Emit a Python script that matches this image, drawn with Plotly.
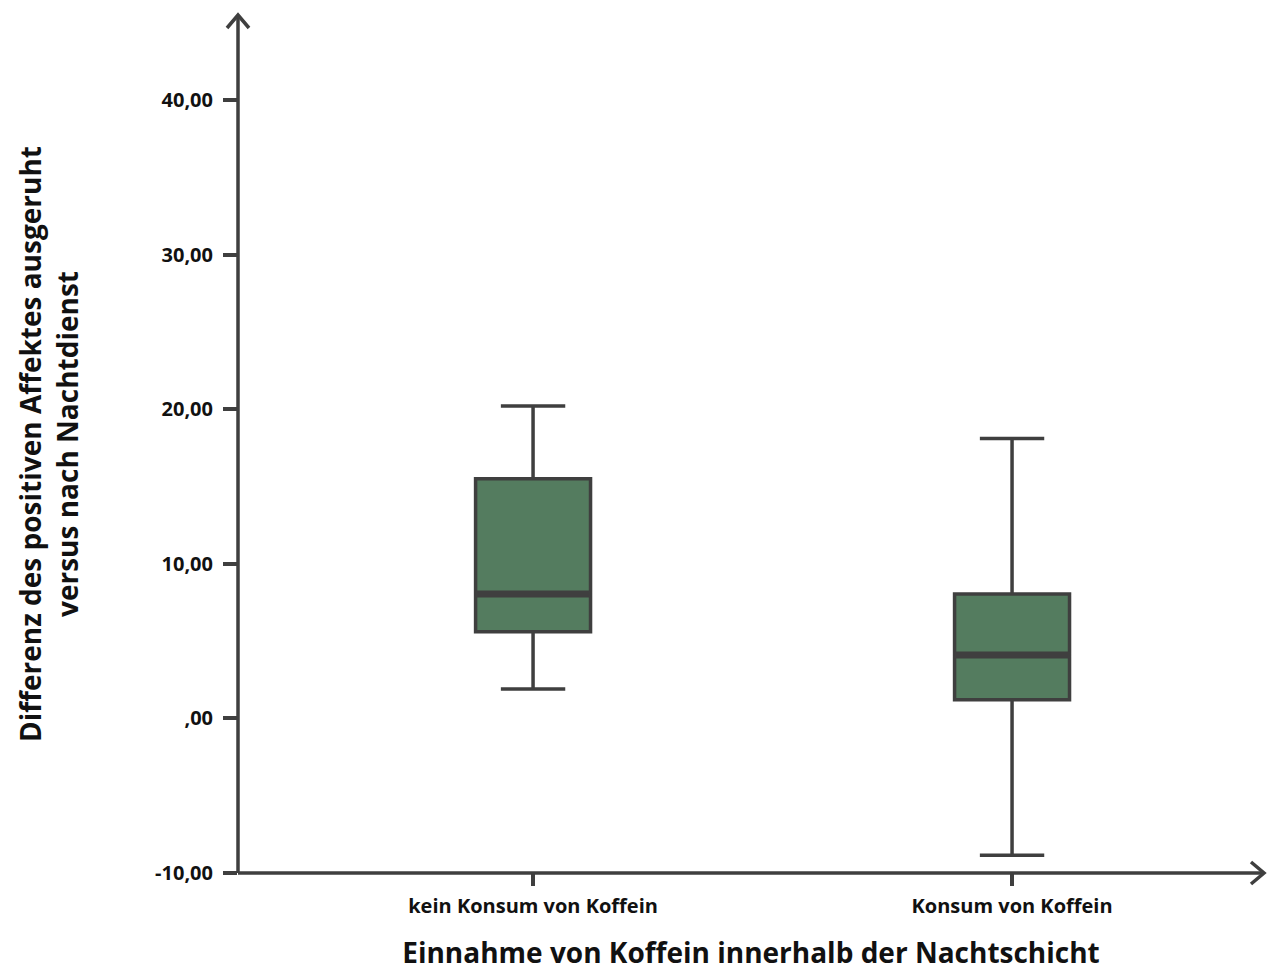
import plotly.graph_objects as go

categories = ["kein Konsum von Koffein", "Konsum von Koffein"]
positions = [0, 1]
lower_whisker = [1.9, -8.85]
q1 = [5.6, 1.2]
median = [8.05, 4.1]
q3 = [15.5, 8.05]
upper_whisker = [20.2, 18.1]

y_tickvals = [-10, 0, 10, 20, 30, 40]
y_ticktext = ["-10,00", ",00", "10,00", "20,00", "30,00", "40,00"]

x_title = "Einnahme von Koffein innerhalb der Nachtschicht"
y_title = "Differenz des positiven Affektes ausgeruht<br>versus nach Nachtdienst"

FILL = "#547c5f"
LINE = "#3f3f3f"
FONT = "Open Sans"
BOX_W = 0.24

fig = go.Figure()
fig.add_trace(go.Box(
    x=positions, q1=q1, median=median, q3=q3,
    lowerfence=lower_whisker, upperfence=upper_whisker,
    fillcolor=FILL, line=dict(color=LINE, width=3.5),
    width=BOX_W, whiskerwidth=0.56, boxpoints=False,
    hoverinfo="skip", showlegend=False,
))
for p, m in zip(positions, median):
    fig.add_trace(go.Scatter(
        x=[p - BOX_W / 2, p + BOX_W / 2], y=[m, m], mode="lines",
        line=dict(color=LINE, width=7), showlegend=False, hoverinfo="skip",
    ))

# axis lines and arrows
shapes = [
    dict(type="line", xref="paper", yref="paper", x0=0, x1=0, y0=0, y1=1,
         line=dict(color=LINE, width=3.5)),
    dict(type="line", xref="paper", yref="paper", x0=0, x1=1, y0=0, y1=0,
         line=dict(color=LINE, width=3.5)),
    dict(type="path", xref="paper", yref="paper", xsizemode="pixel", ysizemode="pixel",
         xanchor=0, yanchor=1, path="M -11,-13 L 0,0 L 11,-13",
         line=dict(color=LINE, width=3.5)),
    dict(type="path", xref="paper", yref="paper", xsizemode="pixel", ysizemode="pixel",
         xanchor=1, yanchor=0, path="M -13,11 L 0,0 L -13,-11",
         line=dict(color=LINE, width=3.5)),
]

fig.update_layout(
    width=1269, height=971,
    margin=dict(l=238, r=5, t=15, b=98),
    paper_bgcolor="white", plot_bgcolor="white",
    font=dict(family=FONT, color="#111111"),
    shapes=shapes,
    xaxis=dict(
        range=[-0.616, 1.526], tickvals=positions, ticktext=categories,
        ticks="outside", ticklen=12, tickwidth=3.5, tickcolor=LINE,
        showgrid=False, zeroline=False, showline=False, ticklabelstandoff=3,
        tickfont=dict(size=20, family=FONT, weight="bold", color="#111111"),
        title=dict(text=x_title, standoff=26,
                   font=dict(size=28, family=FONT, weight="bold", color="#111111")),
    ),
    yaxis=dict(
        range=[-10, 45.5], tickvals=y_tickvals, ticktext=y_ticktext,
        ticks="outside", ticklen=14, tickwidth=3.5, tickcolor=LINE,
        showgrid=False, zeroline=False, showline=False, ticklabelstandoff=6,
        tickfont=dict(size=20, family=FONT, weight="bold", color="#111111"),
        title=dict(text=y_title, standoff=68,
                   font=dict(size=28, family=FONT, weight="bold", color="#111111")),
    ),
)

fig.write_html("out.html")
